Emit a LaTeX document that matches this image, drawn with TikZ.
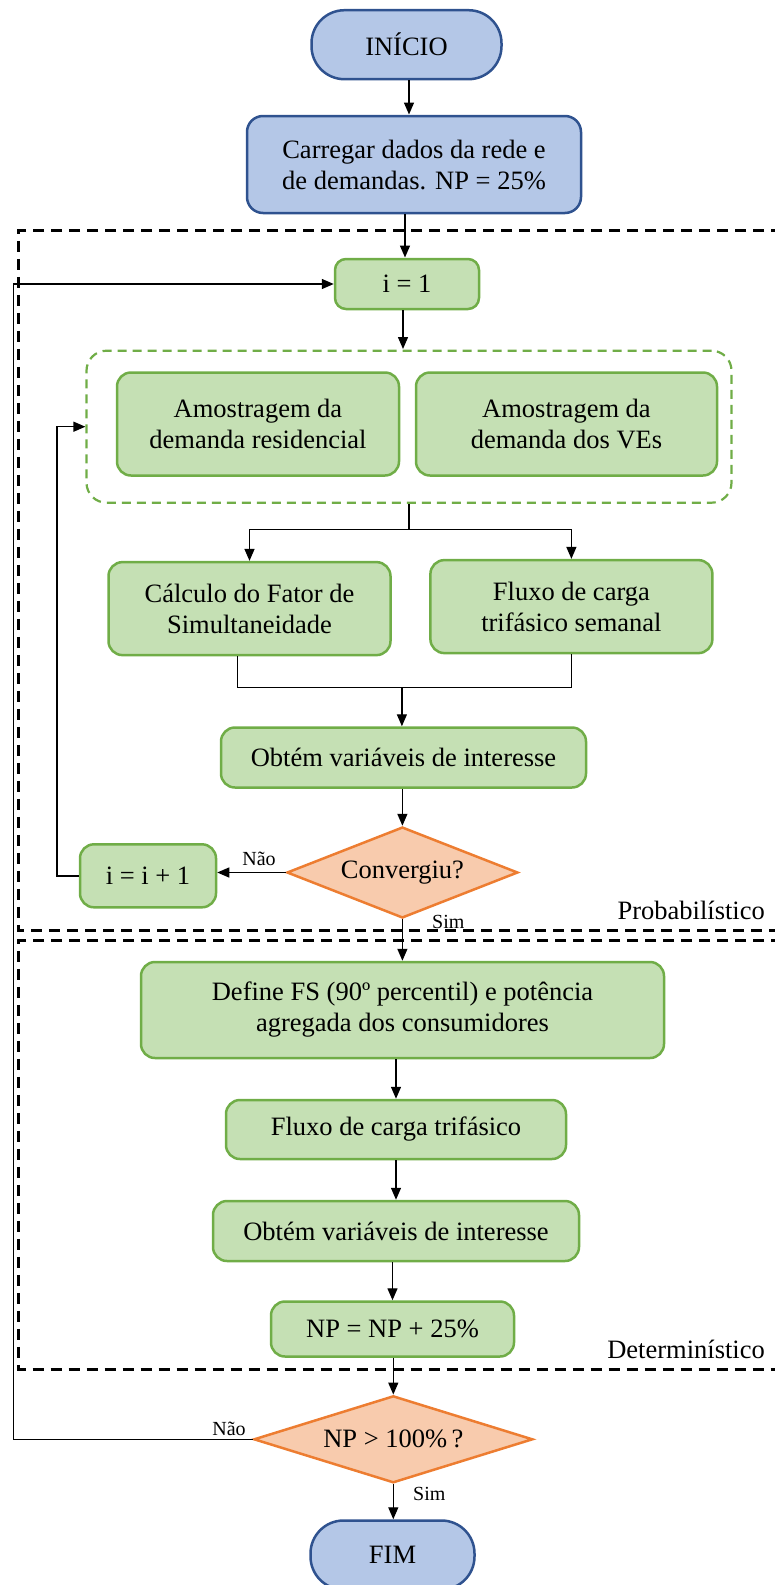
\documentclass[tikz,border=0pt]{standalone}
\usepackage{fontspec}
\setmainfont{Liberation Serif}
\usetikzlibrary{arrows.meta,shapes.geometric}
\definecolor{blueF}{HTML}{B4C7E7}
\definecolor{blueB}{HTML}{2F528F}
\definecolor{greenF}{HTML}{C5E0B4}
\definecolor{greenB}{HTML}{70AD47}
\definecolor{orangeF}{HTML}{F8CBAD}
\definecolor{orangeB}{HTML}{ED7D31}
\begin{document}
\begin{tikzpicture}[x=1pt,y=-1pt,
  every node/.style={font=\fontsize{26.5}{31}\selectfont, align=center, inner sep=0pt},
  bluebox/.style={draw=blueB, fill=blueF, line width=2.5pt, rounded corners=16pt},
  term/.style={draw=blueB, fill=blueF, line width=2.5pt, rounded corners=33pt},
  gbox/.style={draw=greenB, fill=greenF, line width=2.5pt, rounded corners=14pt},
  grp/.style={draw=greenB, line width=2.2pt, dash pattern=on 9pt off 6pt, rounded corners=20pt},
  dec/.style={diamond, draw=orangeB, fill=orangeF, line width=2.5pt},
  arr/.style={-{Triangle[length=12pt,width=10pt]}, line width=1.4pt},
  conn/.style={line width=1.4pt},
  region/.style={line width=3pt, dash pattern=on 11pt off 7pt},
  lbl/.style={font=\fontsize{20}{24}\selectfont}
]
\useasboundingbox (0,0) rectangle (775,1585);

% regions
\draw[region] (800,230) -- (18.8,230) -- (18.8,930.5) -- (800,930.5);
\draw[region] (800,940) -- (18.8,940) -- (18.8,1369) -- (800,1369);
\node[anchor=base east] (plab) at (765,919) {Probabilístico};
\node[anchor=base east] (dlab) at (765,1358) {Determinístico};

% nodes
\node[term, minimum width=190pt, minimum height=69pt] (ini) at (406.5,44.7) {INÍCIO};
\node[bluebox, minimum width=334pt, minimum height=97pt] (car) at (414,164.5) {Carregar dados da rede e\\de demandas. NP = 25\%};
\node[gbox, rounded corners=11pt, minimum width=144pt, minimum height=50pt] (i1) at (407,284) {i = 1};
\node[grp, minimum width=645pt, minimum height=152pt] (grp) at (409,426.7) {};
\node[gbox, minimum width=282pt, minimum height=103pt] (amr) at (258,424) {Amostragem da\\demanda residencial};
\node[gbox, minimum width=301pt, minimum height=103pt] (amv) at (566.5,424) {Amostragem da\\demanda dos VEs};
\node[gbox, minimum width=282pt, minimum height=93pt] (calc) at (249.5,608.6) {Cálculo do Fator de\\Simultaneidade};
\node[gbox, minimum width=282pt, minimum height=93pt] (flx) at (571.4,606.6) {Fluxo de carga\\trifásico semanal};
\node[gbox, minimum width=365pt, minimum height=60pt] (obt) at (403.5,757.5) {Obtém variáveis de interesse};
\node[dec, shape aspect=2.5, minimum width=231pt, minimum height=91pt] (conv) at (402.4,872.5) {Convergiu?};
\node[gbox, minimum width=136pt, minimum height=63pt] (inc) at (148,875.8) {i = i + 1};
\node[gbox, minimum width=523pt, minimum height=96pt] (def) at (402.5,1010) {Define FS (90º percentil) e potência\\agregada dos consumidores};
\node[gbox, minimum width=340pt, minimum height=59pt] (flt) at (396,1129.5) {Fluxo de carga trifásico};
\node[gbox, minimum width=366pt, minimum height=60pt] (obt2) at (396,1231) {Obtém variáveis de interesse};
\node[gbox, minimum width=243pt, minimum height=55pt] (np) at (392.5,1329) {NP = NP + 25\%};
\node[dec, shape aspect=3.2, minimum width=279pt, minimum height=87pt] (npd) at (393.3,1439.3) {NP > 100\%\,?};
\node[term, minimum width=164pt, minimum height=69pt] (fim) at (392.5,1555) {FIM};

% helper coordinates
\coordinate (loopA) at (57,0);
\coordinate (loopB) at (13.3,0);
\coordinate (split) at (409,529.3);
\coordinate (merge) at (401.9,687.7);

% connectors
\draw[arr] (ini.south -| 409,0) -- (409,114.5);
\draw[arr] (car.south -| 405,0) -- (405,257.5);
\draw[arr] (i1.south -| 403,0) -- (403,349);
\draw[conn] (grp.south) -- (split);
\draw[arr] (split) -| (calc.north);
\draw[arr] (split) -| (flx.north);
\draw[conn] (calc.south -| 237.3,0) |- (merge);
\draw[conn] (flx.south) |- (merge);
\draw[arr] (merge) -- (merge |- obt.north);
\draw[arr] (obt.south -| conv.north) -- (conv.north);
\draw[arr] (conv.west) -- (conv.west -| inc.east);
\node[lbl, anchor=base] (nao1) at (259,865) {Não};
\draw[arr] (inc.west) -- (inc.west -| loopA) |- (grp.west);
\node[lbl, anchor=base west] (sim1) at (432,928) {Sim};
\draw[arr] (conv.south) -- (conv.south |- def.north);
\draw[arr] (def.south -| flt.north) -- (flt.north);
\draw[arr] (flt.south) -- (obt2.north);
\draw[arr] (obt2.south -| np.north) -- (np.north);
\draw[arr] (np.south -| npd.north) -- (npd.north);
\node[lbl, anchor=base] (nao2) at (229,1435) {Não};
\draw[arr] (npd.west) -- (npd.west -| loopB) |- (i1.west);
\node[lbl, anchor=base west] (sim2) at (413,1500) {Sim};
\draw[arr] (npd.south) -- (npd.south |- fim.north);
\end{tikzpicture}
\end{document}
